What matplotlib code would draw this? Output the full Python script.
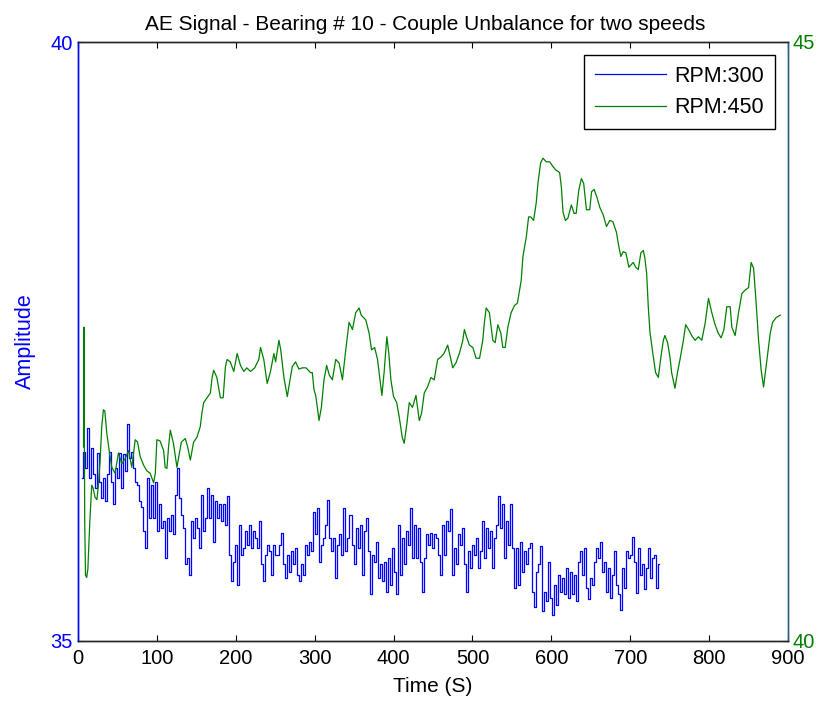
import numpy as np
import matplotlib
matplotlib.use("Agg")
import matplotlib.pyplot as plt

plt.rcParams['font.family'] = ['Liberation Sans', 'DejaVu Sans']

# ---------------- data ----------------
title = "AE Signal - Bearing # 10 - Couple Unbalance for two speeds"
xlabel = "Time (S)"
ylabel = "Amplitude"
labels = ["RPM:300", "RPM:450"]

x_ticks = [0, 100, 200, 300, 400, 500, 600, 700, 800, 900]
left_ticks = [35, 40]
right_ticks = [40, 45]

# RPM:300 (left axis), sampled uniformly from ~4.7 s to ~737 s
rpm300_start, rpm300_end = 4.7, 737.0
rpm300_values = [
    36.36, 36.58, 36.44, 36.78, 36.36, 36.61, 36.39, 36.28, 36.57, 36.33,
    36.19, 36.36, 36.17, 36.39, 36.58, 36.33, 36.14, 36.44, 36.36, 36.57,
    36.28, 36.56, 36.42, 36.81, 36.53, 36.58, 36.44, 36.33, 36.30, 36.17,
    36.12, 35.92, 35.78, 36.36, 36.03, 36.30, 36.03, 36.33, 35.92, 36.14,
    35.94, 36.00, 35.69, 36.03, 35.92, 36.05, 35.89, 36.22,
    36.44, 36.19, 36.05, 35.94, 35.64, 35.69, 35.55, 36.00, 35.86, 36.03,
    35.94, 35.78, 36.22, 35.92, 36.03, 36.28, 36.03, 36.22, 35.83, 36.17,
    36.03, 36.14, 36.00, 36.14, 35.97, 36.21, 35.72, 35.50, 35.66, 35.80,
    35.47, 35.97, 35.72, 35.78, 35.92, 35.80, 35.97, 35.78, 35.92, 35.86,
    35.78, 36.00, 35.64, 35.50, 35.72, 35.80, 35.75, 35.55, 35.80, 35.72,
    35.72, 35.80, 35.90, 35.64, 35.53, 35.72, 35.58, 35.75, 35.64, 35.78,
    35.55, 35.50, 35.64, 35.55, 35.80, 35.72, 35.83, 35.75, 36.08, 35.89,
    36.11, 35.66, 35.80, 35.86, 35.97, 36.18, 35.86, 35.75, 35.86, 35.53,
    35.80, 35.89, 35.72, 36.11, 35.75, 35.86, 36.05, 35.80, 35.64, 35.94,
    35.78, 35.97, 35.55, 35.92, 36.03, 35.75, 35.39, 35.72, 35.66, 35.83,
    35.53, 35.64, 35.50, 35.66, 35.41, 35.69, 35.47, 35.78, 35.58, 35.39,
    35.97, 35.55, 35.86, 35.64, 35.92, 35.80, 36.11, 35.69, 35.97, 35.69,
    35.94, 35.66, 35.41, 35.69, 35.89, 35.80, 35.90, 35.78, 35.89, 35.86,
    35.72, 35.55, 35.97, 35.72, 36.00, 35.92, 36.10, 35.55, 35.78, 35.64,
    35.89, 35.80, 35.94, 35.64, 35.41, 35.75, 35.61, 35.80, 35.72, 35.86,
    35.61, 35.75, 36.00, 35.69, 35.94, 35.78, 35.92, 35.61, 35.86, 35.97,
    36.21, 35.94, 36.14, 35.69, 36.00, 35.80, 36.14, 35.78, 35.44, 35.78,
    35.47, 35.83, 35.58, 35.75, 35.64, 35.78, 35.82, 35.41, 35.28, 35.58,
    35.64, 35.79, 35.25, 35.41, 35.33, 35.66, 35.36, 35.22, 35.47, 35.30,
    35.55, 35.41, 35.53, 35.39, 35.61, 35.36, 35.58, 35.39, 35.55, 35.33,
    35.66, 35.75, 35.55, 35.78, 35.44, 35.35, 35.53, 35.47, 35.66, 35.78,
    35.69, 35.83, 35.58, 35.66, 35.41, 35.61, 35.36, 35.55, 35.75, 35.47,
    35.39, 35.26, 35.61, 35.44, 35.75, 35.69, 35.72, 35.87, 35.66, 35.40,
    35.78, 35.55, 35.64, 35.43, 35.61, 35.78, 35.53, 35.69, 35.72, 35.44,
    35.64,
]

# RPM:450 (right axis)
rpm450_time = [
    7, 7.5, 8.5, 9.5, 11, 12.5, 13.5, 15, 16, 17.4, 19, 21.6, 24, 25.8, 28,
    30.1, 32.2, 34, 36.4, 39.5, 42.8, 47, 51.3, 55.5, 59.7, 64, 68.2, 72.5,
    75.5, 78.8, 83, 87.3, 91.5, 95.8, 98, 100, 104, 108.5, 110.5, 112.7,
    114.8, 117, 121, 125.4, 131, 136, 139, 142.4, 146.5, 150.8, 155, 157,
    159.3, 163.5, 167.8, 170, 172, 176, 180.5, 184, 186.9, 189, 193, 197.5,
    201.7, 206, 210.2, 214, 218.6, 224, 229.2, 231.4, 235.5, 239.8, 244,
    248.3, 250.5, 254.7, 257, 261, 265.3, 268, 271.6, 275.8, 280, 284.3, 289,
    294.9, 297, 299.1, 301.3, 303.4, 305.5, 308.5, 311.8, 315.2, 318.5,
    322.5, 326.7, 331, 335.2, 337, 339.4, 343.6, 347.9, 352, 356.3, 359,
    364.8, 369, 372.1, 376, 379.7, 382.5, 385.2, 388, 391.5, 394, 396.6, 400,
    404, 407.2, 411, 413.5, 417, 419.9, 424, 428.4, 432.6, 435.5, 438.9, 443,
    447.4, 451.5, 455.9, 460, 464, 468.6, 471, 475, 479, 483.4, 487.5, 489.8,
    492, 496.1, 500.5, 504.6, 509, 513.1, 515, 517.4, 521.5, 525.8, 528.8,
    532.2, 536, 538.5, 541.5, 544.9, 549, 553.3, 557, 559.7, 561.8, 564,
    568.2, 571.2, 574, 577.5, 580.9, 583, 586.4, 589.4, 593.5, 597.9, 602.1,
    606, 610.5, 612.7, 614.8, 617.8, 621, 625.4, 628.8, 631.5, 634.7, 638.1,
    641, 644.5, 648.7, 651, 654.2, 658, 661.4, 665.6, 669.9, 674.1, 678,
    682.6, 684.8, 688.1, 691.1, 694.5, 698.3, 703.8, 707, 710.2, 713.5,
    716.6, 718.5, 720.8, 722.9, 725, 729.3, 732.2, 735.6, 738.9, 742, 744,
    747.4, 750.4, 752.5, 756.7, 759.9, 763.1, 767.4, 770.3, 774, 777.9,
    782.2, 786.5, 790.7, 794.9, 799.2, 803.4, 807.6, 811.5, 815.2, 818.8,
    822.4, 826.7, 828.8, 833, 837.3, 841.5, 845.8, 850, 853.3, 856.4, 859.3,
    862.7, 866, 869, 873.3, 877.5, 880.5, 885, 890.2,
]
rpm450_values = [
    41.62, 42.62, 41.0, 40.55, 40.53, 40.6, 40.76, 41.0, 41.12, 41.30,
    41.28, 41.20, 41.18, 41.30, 41.5, 41.79, 41.93, 41.92, 41.74, 41.59,
    41.45, 41.40, 41.57, 41.48, 41.52, 41.59, 41.45, 41.68, 41.66, 41.54,
    41.47, 41.42, 41.40, 41.32, 41.40, 41.68, 41.67, 41.59, 41.45, 41.44,
    41.62, 41.76, 41.65, 41.45, 41.66, 41.69, 41.62, 41.51, 41.66, 41.70,
    41.79, 41.90, 41.99, 42.03, 42.07, 42.20, 42.26, 42.20, 42.03, 42.03,
    42.29, 42.35, 42.33, 42.25, 42.40, 42.30, 42.25, 42.28, 42.25, 42.28,
    42.35, 42.45, 42.35, 42.15, 42.25, 42.40, 42.33, 42.51, 42.43, 42.20,
    42.04, 42.15, 42.29, 42.33, 42.27, 42.28, 42.28, 42.24, 42.24, 42.10,
    42.05, 41.95, 41.84, 41.95, 42.18, 42.30, 42.22, 42.18, 42.35, 42.32,
    42.18, 42.29, 42.43, 42.66, 42.60, 42.74, 42.78, 42.72, 42.68, 42.57,
    42.43, 42.45, 42.35, 42.20, 42.05, 42.24, 42.54, 42.40, 42.18, 42.04,
    41.99, 41.87, 41.70, 41.65, 41.82, 41.99, 41.95, 42.05, 41.84, 41.90,
    42.07, 42.12, 42.20, 42.18, 42.35, 42.37, 42.40, 42.47, 42.40, 42.28,
    42.32, 42.40, 42.50, 42.60, 42.55, 42.47, 42.45, 42.36, 42.36, 42.51,
    42.65, 42.78, 42.74, 42.51, 42.49, 42.64, 42.57, 42.45, 42.45, 42.62,
    42.74, 42.80, 42.82, 42.93, 43.01, 43.21, 43.37, 43.54, 43.54, 43.51,
    43.66, 43.82, 43.99, 44.03, 44.00, 44.00, 43.96, 43.93, 43.91, 43.79,
    43.58, 43.51, 43.53, 43.64, 43.57, 43.57, 43.76, 43.86, 43.82, 43.60,
    43.60, 43.75, 43.77, 43.70, 43.62, 43.56, 43.46, 43.51, 43.50, 43.41,
    43.32, 43.21, 43.25, 43.24, 43.12, 43.16, 43.12, 43.10, 43.24, 43.26,
    43.20, 43.07, 42.79, 42.58, 42.37, 42.24, 42.20, 42.37, 42.51, 42.55,
    42.49, 42.37, 42.24, 42.11, 42.24, 42.35, 42.51, 42.64, 42.60, 42.55,
    42.51, 42.54, 42.51, 42.65, 42.86, 42.74, 42.64, 42.57, 42.53, 42.60,
    42.79, 42.79, 42.62, 42.55, 42.74, 42.90, 42.93, 42.95, 43.16, 43.11,
    42.85, 42.51, 42.26, 42.12, 42.35, 42.57, 42.66, 42.70, 42.72,
]

rpm300_time = np.linspace(rpm300_start, rpm300_end, len(rpm300_values))

# ---------------- styling ----------------
BLUE = '#0000ff'
GREEN = '#008000'
RIGHT_SPINE = '#2b5d7c'
FS = 14.5

fig = plt.figure(figsize=(8.17, 7.09), dpi=100)
ax = fig.add_axes([78 / 817, 1 - 641 / 709, (788 - 78) / 817, (641 - 42) / 709])
ax2 = ax.twinx()

l1, = ax.plot(rpm300_time, rpm300_values, color=BLUE, lw=0.9,
              drawstyle='steps-mid')
l2, = ax2.plot(rpm450_time, rpm450_values, color=GREEN, lw=0.9)

ax.set_xlim(0, 900)
ax.set_ylim(35, 40)
ax2.set_ylim(40, 45)
ax.set_xticks(x_ticks)
ax.set_yticks(left_ticks)
ax2.set_yticks(right_ticks)

ax.tick_params(axis='x', direction='in', top=True, length=4, labelsize=FS,
               colors='black', pad=6)
ax.tick_params(axis='y', direction='in', length=4, labelsize=FS,
               colors=BLUE, pad=4)
ax2.tick_params(axis='y', direction='in', length=4, labelsize=FS,
                colors=GREEN, pad=3)

for a in (ax, ax2):
    a.spines['top'].set_color('#262626')
    a.spines['bottom'].set_color('#262626')
    for s in a.spines.values():
        s.set_linewidth(1.0)
ax.spines['left'].set_color(BLUE)
ax2.spines['left'].set_color(BLUE)
ax.spines['right'].set_color(RIGHT_SPINE)
ax2.spines['right'].set_color(RIGHT_SPINE)

ax.set_xlabel(xlabel, fontsize=15, labelpad=6)
ax.set_ylabel(ylabel, fontsize=15.5, color=BLUE, labelpad=10)
ax.set_title(title, fontsize=15, pad=9, x=0.489)

leg = ax2.legend([l1, l2], labels, loc='upper right', fontsize=15.5,
                 handlelength=3.3, fancybox=False, framealpha=1,
                 edgecolor='black', borderaxespad=0.6, labelspacing=0.5,
                 handletextpad=0.4, borderpad=0.5)
leg.get_frame().set_linewidth(1.0)

fig.savefig('out.png', dpi=100)
